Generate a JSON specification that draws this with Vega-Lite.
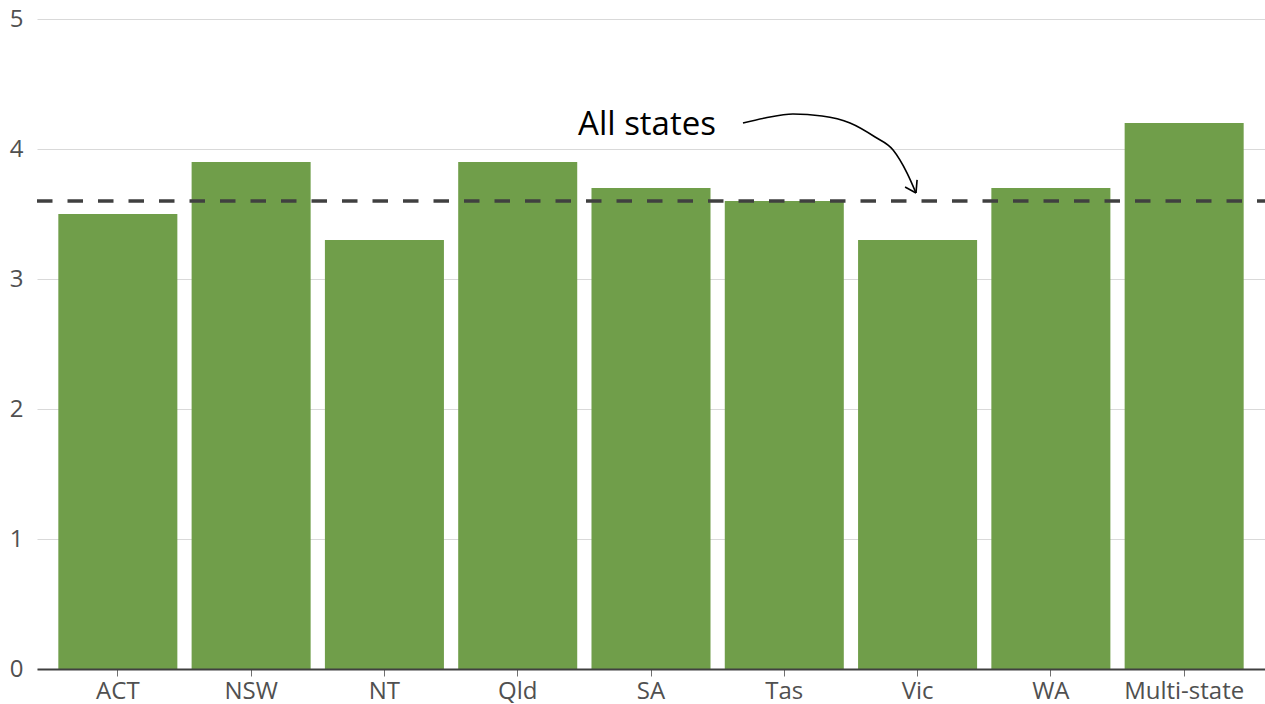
{
  "$schema": "https://vega.github.io/schema/vega-lite/v6.json",
  "width": 1228,
  "height": 650,
  "autosize": {"type": "none"},
  "padding": {"left": 37, "top": 19, "right": 0, "bottom": 35},
  "background": "white",
  "config": {"view": {"stroke": null}, "font": "Open Sans"},
  "datasets": {
    "bars": [
      {"state": "ACT", "value": 3.5},
      {"state": "NSW", "value": 3.9},
      {"state": "NT", "value": 3.3},
      {"state": "Qld", "value": 3.9},
      {"state": "SA", "value": 3.7},
      {"state": "Tas", "value": 3.6},
      {"state": "Vic", "value": 3.3},
      {"state": "WA", "value": 3.7},
      {"state": "Multi-state", "value": 4.2}
    ],
    "avg": [{"allStates": 3.6}],
    "curve": [
      {"x": 4.692, "y": 4.2},
      {"x": 4.857, "y": 4.238},
      {"x": 5.067, "y": 4.269},
      {"x": 5.285, "y": 4.254},
      {"x": 5.495, "y": 4.2},
      {"x": 5.683, "y": 4.092},
      {"x": 5.818, "y": 3.992},
      {"x": 5.923, "y": 3.815},
      {"x": 5.99, "y": 3.662}
    ],
    "head": [
      {"seg": "a", "x": 5.908, "y": 3.708},
      {"seg": "a", "x": 5.99, "y": 3.662},
      {"seg": "b", "x": 5.998, "y": 3.762},
      {"seg": "b", "x": 5.99, "y": 3.662}
    ],
    "label": [{"text": "All states", "x": 3.972, "y": 4.108}]
  },
  "layer": [
    {
      "data": {"name": "bars"},
      "mark": {"type": "bar", "color": "#709E4A"},
      "encoding": {
        "x": {
          "field": "state",
          "type": "nominal",
          "sort": null,
          "scale": {"paddingInner": 0.107, "paddingOuter": 0.16},
          "axis": {
            "title": null,
            "labelAngle": 0,
            "labelFontSize": 24,
            "labelColor": "#505050",
            "labelPadding": 3,
            "domainColor": "#404040",
            "domainWidth": 2,
            "tickColor": "#707070",
            "tickSize": 7,
            "zindex": 1
          }
        },
        "y": {
          "field": "value",
          "type": "quantitative",
          "scale": {"domain": [0, 5], "nice": false},
          "axis": {
            "title": null,
            "values": [0, 1, 2, 3, 4, 5],
            "format": "d",
            "grid": true,
            "gridColor": "#d9d9d9",
            "gridWidth": 1,
            "domain": false,
            "ticks": false,
            "labelFontSize": 24,
            "labelColor": "#505050",
            "labelPadding": 14
          }
        }
      }
    },
    {
      "data": {"name": "avg"},
      "mark": {"type": "rule", "color": "#404040", "strokeWidth": 3.5, "strokeDash": [15.5, 15], "strokeDashOffset": 7.5},
      "encoding": {"y": {"field": "allStates", "type": "quantitative"}}
    },
    {
      "data": {"name": "curve"},
      "mark": {"type": "line", "color": "#000000", "strokeWidth": 1.6, "interpolate": "monotone"},
      "encoding": {
        "x": {"field": "x", "type": "quantitative", "scale": {"domain": [-0.604, 8.608], "nice": false, "zero": false}, "axis": null},
        "y": {"field": "y", "type": "quantitative"}
      }
    },
    {
      "data": {"name": "head"},
      "mark": {"type": "line", "color": "#000000", "strokeWidth": 1.6},
      "encoding": {
        "x": {"field": "x", "type": "quantitative", "scale": {"domain": [-0.604, 8.608], "nice": false, "zero": false}, "axis": null},
        "y": {"field": "y", "type": "quantitative"},
        "detail": {"field": "seg"}
      }
    },
    {
      "data": {"name": "label"},
      "mark": {"type": "text", "fontSize": 33, "color": "#000000", "align": "center", "baseline": "alphabetic"},
      "encoding": {
        "x": {"field": "x", "type": "quantitative", "scale": {"domain": [-0.604, 8.608], "nice": false, "zero": false}, "axis": null},
        "y": {"field": "y", "type": "quantitative"},
        "text": {"field": "text"}
      }
    }
  ],
  "resolve": {"scale": {"x": "independent"}, "axis": {"x": "independent"}}
}
